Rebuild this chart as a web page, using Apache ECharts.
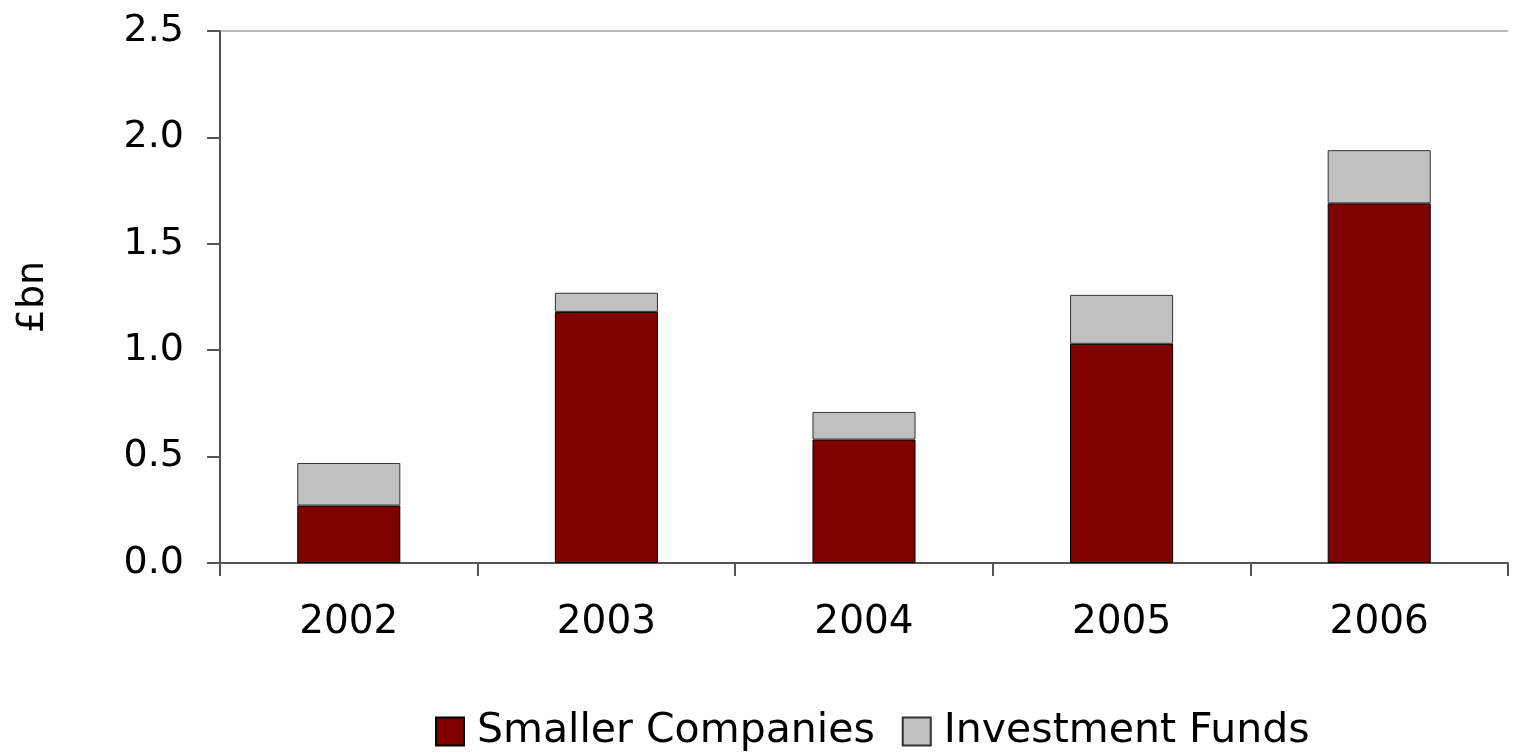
<!DOCTYPE html>
<html>
<head>
<meta charset="utf-8">
<script src="https://cdn.jsdelivr.net/npm/echarts@6/dist/echarts.min.js"></script>
<style>
  html, body { margin: 0; padding: 0; background: #fff; }
  #chart { width: 1515px; height: 755px; }
</style>
</head>
<body>
<div id="chart"></div>
<script>
// data
const years = ['2002', '2003', '2004', '2005', '2006'];
const smallerCompanies = [0.27, 1.18, 0.58, 1.03, 1.69];
const investmentFunds = [0.20, 0.09, 0.13, 0.23, 0.25];

const font = 'DejaVu Sans, Arial, sans-serif';

const chart = echarts.init(document.getElementById('chart'));

const option = {
  animation: false,
  grid: { left: 220, right: 7, top: 31, bottom: 192, outerBoundsMode: 'none', containLabel: false },
  legend: {
    bottom: -2,
    left: 430,
    icon: 'rect',
    itemWidth: 28,
    itemHeight: 28,
    itemGap: 27,
    textStyle: { fontFamily: font, fontSize: 41, color: '#000', padding: [0, 0, 0, 8] },
    data: ['Smaller Companies', 'Investment Funds']
  },
  xAxis: {
    type: 'category',
    data: years,
    axisLine: { lineStyle: { color: '#555', width: 2 } },
    axisTick: { show: true, length: 13, lineStyle: { color: '#555', width: 2 } },
    axisLabel: { fontFamily: font, fontSize: 39, color: '#000', margin: 40 }
  },
  yAxis: {
    type: 'value',
    min: 0,
    max: 2.5,
    interval: 0.5,
    name: '£bn',
    nameLocation: 'middle',
    nameGap: 168,
    nameTextStyle: { fontFamily: font, fontSize: 38, color: '#000' },
    axisLine: { show: true, lineStyle: { color: '#555', width: 2 } },
    axisTick: { show: true, length: 13, lineStyle: { color: '#555', width: 2 } },
    axisLabel: {
      fontFamily: font, fontSize: 38, color: '#000', margin: 36,
      formatter: v => v.toFixed(1)
    },
    splitLine: {
      show: true,
      lineStyle: { color: ['rgba(0,0,0,0)', 'rgba(0,0,0,0)', 'rgba(0,0,0,0)', 'rgba(0,0,0,0)', 'rgba(0,0,0,0)', '#bbb'], width: 2 }
    }
  },
  series: [
    {
      name: 'Smaller Companies',
      type: 'bar',
      stack: 'total',
      barWidth: '40%',
      data: smallerCompanies,
      itemStyle: { color: '#800000', borderColor: '#000', borderWidth: 1 }
    },
    {
      name: 'Investment Funds',
      type: 'bar',
      stack: 'total',
      data: investmentFunds,
      itemStyle: { color: '#c0c0c0', borderColor: '#333', borderWidth: 1 }
    }
  ]
};

chart.setOption(option);
</script>
</body>
</html>
